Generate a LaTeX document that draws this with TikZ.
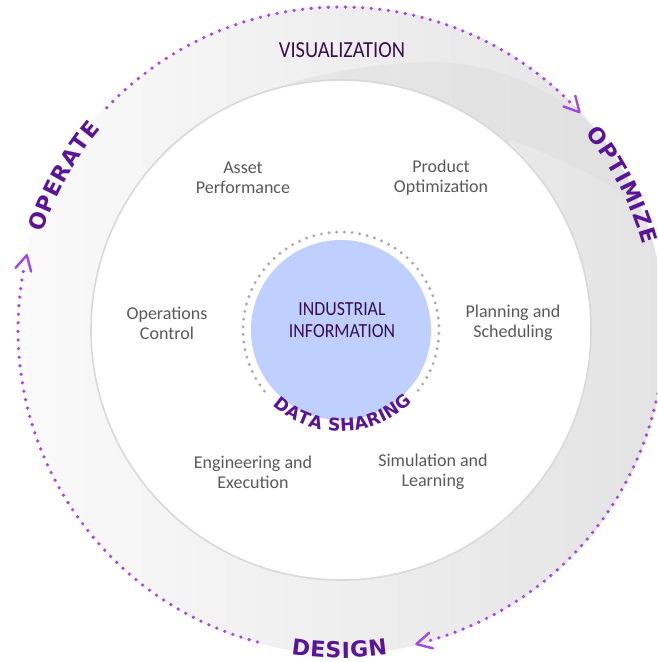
\documentclass[tikz,border=0pt]{standalone}
\usepackage{fontspec}
\setmainfont{Carlito}
\newfontfamily\arcfont{DejaVu Sans}
\usetikzlibrary{decorations.text}
\definecolor{dotpurple}{HTML}{A346E2}
\definecolor{arcpurple}{HTML}{5A1496}
\definecolor{titlepurple}{HTML}{3A0F4E}
\definecolor{labelgray}{HTML}{595959}
\definecolor{corefill}{HTML}{BFD0FE}
\definecolor{coredots}{HTML}{A8A8A8}
\begin{document}
\begin{tikzpicture}[x=1pt,y=1pt,
  itemlabel/.style={text=labelgray, font=\fontsize{18}{20}\selectfont, align=center, inner sep=0pt},
  titlelabel/.style={text=titlepurple, align=center, xscale=0.89, inner sep=0pt},
  purpledots/.style={draw=dotpurple, line width=3.6pt, line cap=round, dash pattern=on 0pt off 8.6pt},
  graydots/.style={draw=coredots, line width=3.2pt, line cap=round, dash pattern=on 0pt off 7.7pt},
  chev/.pic={\draw[dotpurple, line width=2.4pt, line cap=round, line join=round] (118:17) -- (0,0) -- (62:17);},
  arctext/.style={font=\arcfont\bfseries\fontsize{22}{24}\selectfont},
  smallarctext/.style={font=\arcfont\bfseries\fontsize{17.5}{18}\selectfont},
]
\useasboundingbox (0,0) rectangle (657,662);
\clip (0,0) rectangle (657,662);
\coordinate (c) at (341,332);
% ring background
\shade[left color=gray!4, right color=gray!22] (c) circle[radius=324];
\begin{scope}
  \clip (c) circle[radius=324];
  \fill[gray!26, opacity=0.5] (163,510) .. controls (230,570) and (330,598) .. (430,600)
     .. controls (500,600) and (560,570) .. (600,527) -- (700,480) -- (700,430) -- (657,445)
     .. controls (600,485) .. (513,522) -- (340,470) -- (200,470) -- cycle;
\end{scope}
% inner disc
\filldraw[fill=white, draw=gray!30, line width=1.6pt] (c) circle[radius=250];
% core
\fill[corefill] (c) circle[radius=90];
\draw[graydots, shift={(c)}] (-38:98) arc[start angle=-38, end angle=222, radius=98];
% outer dotted arcs
\draw[purpledots, shift={(c)}] (136.5:323) arc[start angle=136.5, end angle=44.6, radius=323];
\draw[purpledots, shift={(c)}] (10:323) arc[start angle=10, end angle=-74.4, radius=323];
\draw[purpledots, shift={(c)}] (255:323) arc[start angle=255, end angle=168.8, radius=323];
% arrow tips (clockwise)
\path[shift={(c)}] (42.4:323) pic[rotate=42.4] {chev};
\path[shift={(c)}] (-76.5:323) pic[rotate=-76.5] {chev};
\path[shift={(c)}] (166.6:323) pic[rotate=166.6] {chev};
% arc texts
\path[arctext, shift={(c)}, decorate, decoration={text effects along path, text={OPERATE}, text align=center,
    text effects/.cd, text along path, character widths={inner xsep=0.5pt},
    characters={text=arcpurple, inner xsep=0.5pt}}]
  (176:313.5) arc[start angle=176, end angle=126, radius=313.5];
\path[arctext, shift={(c)}, decorate, decoration={text effects along path, text={OPTIMIZE}, text align=center,
    text effects/.cd, text along path, character widths={inner xsep=0.45pt},
    characters={text=arcpurple, inner xsep=0.45pt}}]
  (52:313.5) arc[start angle=52, end angle=2.6, radius=313.5];
\path[arctext, shift={(c)}, decorate, decoration={text effects along path, text={DESIGN}, text align=center,
    text effects/.cd, text along path, character widths={inner xsep=0.3pt},
    characters={text=arcpurple, inner xsep=0.3pt}}]
  (245:328) arc[start angle=245, end angle=294.4, radius=328];
\path[smallarctext, shift={(c)}, decorate, decoration={text effects along path, text={DATA SHARING}, text align=center,
    text effects/.cd, text along path, character widths={inner xsep=0.2pt},
    characters={text=arcpurple, inner xsep=0.2pt}}]
  (221:101.5) arc[start angle=221, end angle=321, radius=101.5];
% titles
\node[titlelabel, font=\fontsize{23}{23}\selectfont] (vis) at (342,612) {VISUALIZATION};
\node[titlelabel, font=\fontsize{20}{22}\selectfont] (core) at (342,342) {INDUSTRIAL\\INFORMATION};
% item labels
\node[itemlabel] (asset) at (243,484) {Asset\\Performance};
\node[itemlabel] (product) at (441,484) {Product\\Optimization};
\node[itemlabel] (ops) at (167,339) {Operations\\Control};
\node[itemlabel] (plan) at (513,339) {Planning and\\Scheduling};
\node[itemlabel] (eng) at (253,190) {Engineering and\\Execution};
\node[itemlabel] (sim) at (433,190) {Simulation and\\Learning};
\end{tikzpicture}
\end{document}
